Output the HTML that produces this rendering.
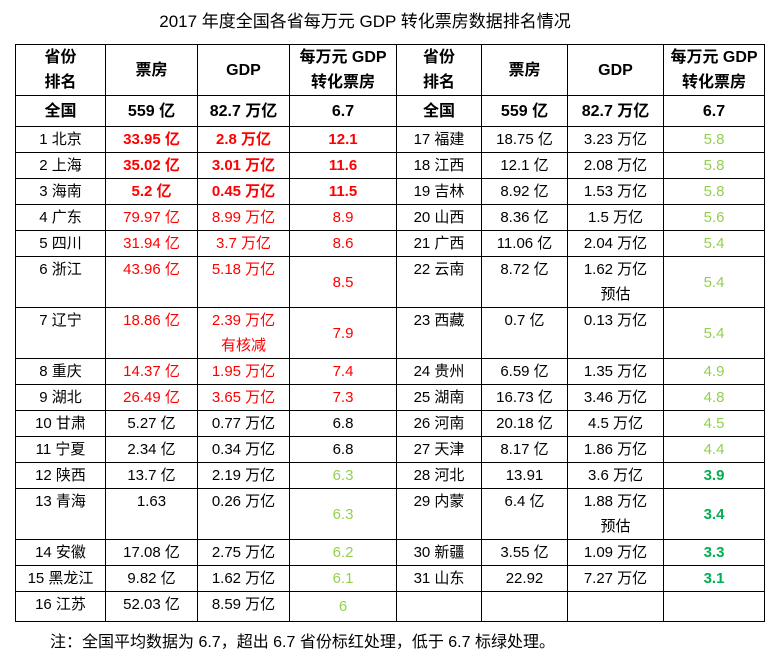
<!DOCTYPE html>
<html><head><meta charset="utf-8"><style>
html,body{margin:0;padding:0;background:#fff;width:777px;height:664px;overflow:hidden;font-family:"Liberation Sans","Noto Sans CJK SC",sans-serif;}
#title{position:absolute;left:0;width:730px;top:7px;text-align:center;font-size:17px;color:#000;}
table{position:absolute;left:15px;top:44px;border-collapse:collapse;table-layout:fixed;}
td{border:1.5px solid #000;text-align:center;vertical-align:top;font-size:15px;line-height:25px;padding:0;color:#000;white-space:nowrap;overflow:hidden;}
tr.hd td{font-weight:bold;vertical-align:middle;height:50px;font-size:16px;}
tr.nat td{font-weight:bold;vertical-align:middle;height:30px;font-size:16px;}
tr.r td{height:25px;}
tr.t td{height:50px;}
tr.s td{height:29px;}
td.m{vertical-align:middle;}
.rb{color:#f00;font-weight:bold;}
.r{color:#f00;}
.lg{color:#92d050;}
.dg{color:#00b050;font-weight:bold;}
#note{position:absolute;left:50px;top:628px;font-size:16px;color:#000;}
</style></head><body>
<div id="title">2017 年度全国各省每万元 GDP 转化票房数据排名情况</div>
<table>
<colgroup><col style="width:90px"><col style="width:92px"><col style="width:92px"><col style="width:107px"><col style="width:85px"><col style="width:86px"><col style="width:96px"><col style="width:101px"></colgroup>
<tr class="hd"><td>省份<br>排名</td><td>票房</td><td>GDP</td><td>每万元 GDP<br>转化票房</td><td>省份<br>排名</td><td>票房</td><td>GDP</td><td>每万元 GDP<br>转化票房</td></tr>
<tr class="nat"><td>全国</td><td>559 亿</td><td>82.7 万亿</td><td>6.7</td><td>全国</td><td>559 亿</td><td>82.7 万亿</td><td>6.7</td></tr>
<tr class="r"><td>1 北京</td><td class="rb">33.95 亿</td><td class="rb">2.8 万亿</td><td class="rb">12.1</td><td>17 福建</td><td>18.75 亿</td><td>3.23 万亿</td><td class="lg">5.8</td></tr>
<tr class="r"><td>2 上海</td><td class="rb">35.02 亿</td><td class="rb">3.01 万亿</td><td class="rb">11.6</td><td>18 江西</td><td>12.1 亿</td><td>2.08 万亿</td><td class="lg">5.8</td></tr>
<tr class="r"><td>3 海南</td><td class="rb">5.2 亿</td><td class="rb">0.45 万亿</td><td class="rb">11.5</td><td>19 吉林</td><td>8.92 亿</td><td>1.53 万亿</td><td class="lg">5.8</td></tr>
<tr class="r"><td>4 广东</td><td class="r">79.97 亿</td><td class="r">8.99 万亿</td><td class="r">8.9</td><td>20 山西</td><td>8.36 亿</td><td>1.5 万亿</td><td class="lg">5.6</td></tr>
<tr class="r"><td>5 四川</td><td class="r">31.94 亿</td><td class="r">3.7 万亿</td><td class="r">8.6</td><td>21 广西</td><td>11.06 亿</td><td>2.04 万亿</td><td class="lg">5.4</td></tr>
<tr class="t"><td>6 浙江</td><td class="r">43.96 亿</td><td class="r">5.18 万亿</td><td class="r m">8.5</td><td>22 云南</td><td>8.72 亿</td><td>1.62 万亿<br>预估</td><td class="lg m">5.4</td></tr>
<tr class="t"><td>7 辽宁</td><td class="r">18.86 亿</td><td class="r">2.39 万亿<br>有核减</td><td class="r m">7.9</td><td>23 西藏</td><td>0.7 亿</td><td>0.13 万亿</td><td class="lg m">5.4</td></tr>
<tr class="r"><td>8 重庆</td><td class="r">14.37 亿</td><td class="r">1.95 万亿</td><td class="r">7.4</td><td>24 贵州</td><td>6.59 亿</td><td>1.35 万亿</td><td class="lg">4.9</td></tr>
<tr class="r"><td>9 湖北</td><td class="r">26.49 亿</td><td class="r">3.65 万亿</td><td class="r">7.3</td><td>25 湖南</td><td>16.73 亿</td><td>3.46 万亿</td><td class="lg">4.8</td></tr>
<tr class="r"><td>10 甘肃</td><td>5.27 亿</td><td>0.77 万亿</td><td>6.8</td><td>26 河南</td><td>20.18 亿</td><td>4.5 万亿</td><td class="lg">4.5</td></tr>
<tr class="r"><td>11 宁夏</td><td>2.34 亿</td><td>0.34 万亿</td><td>6.8</td><td>27 天津</td><td>8.17 亿</td><td>1.86 万亿</td><td class="lg">4.4</td></tr>
<tr class="r"><td>12 陕西</td><td>13.7 亿</td><td>2.19 万亿</td><td class="lg">6.3</td><td>28 河北</td><td>13.91</td><td>3.6 万亿</td><td class="dg">3.9</td></tr>
<tr class="t"><td>13 青海</td><td>1.63</td><td>0.26 万亿</td><td class="lg m">6.3</td><td>29 内蒙</td><td>6.4 亿</td><td>1.88 万亿<br>预估</td><td class="dg m">3.4</td></tr>
<tr class="r"><td>14 安徽</td><td>17.08 亿</td><td>2.75 万亿</td><td class="lg">6.2</td><td>30 新疆</td><td>3.55 亿</td><td>1.09 万亿</td><td class="dg">3.3</td></tr>
<tr class="r"><td>15 黑龙江</td><td>9.82 亿</td><td>1.62 万亿</td><td class="lg">6.1</td><td>31 山东</td><td>22.92</td><td>7.27 万亿</td><td class="dg">3.1</td></tr>
<tr class="s"><td>16 江苏</td><td>52.03 亿</td><td>8.59 万亿</td><td class="lg m">6</td><td></td><td></td><td></td><td></td></tr>
</table>
<div id="note">注：全国平均数据为 6.7，超出 6.7 省份标红处理，低于 6.7 标绿处理。</div>
</body></html>
